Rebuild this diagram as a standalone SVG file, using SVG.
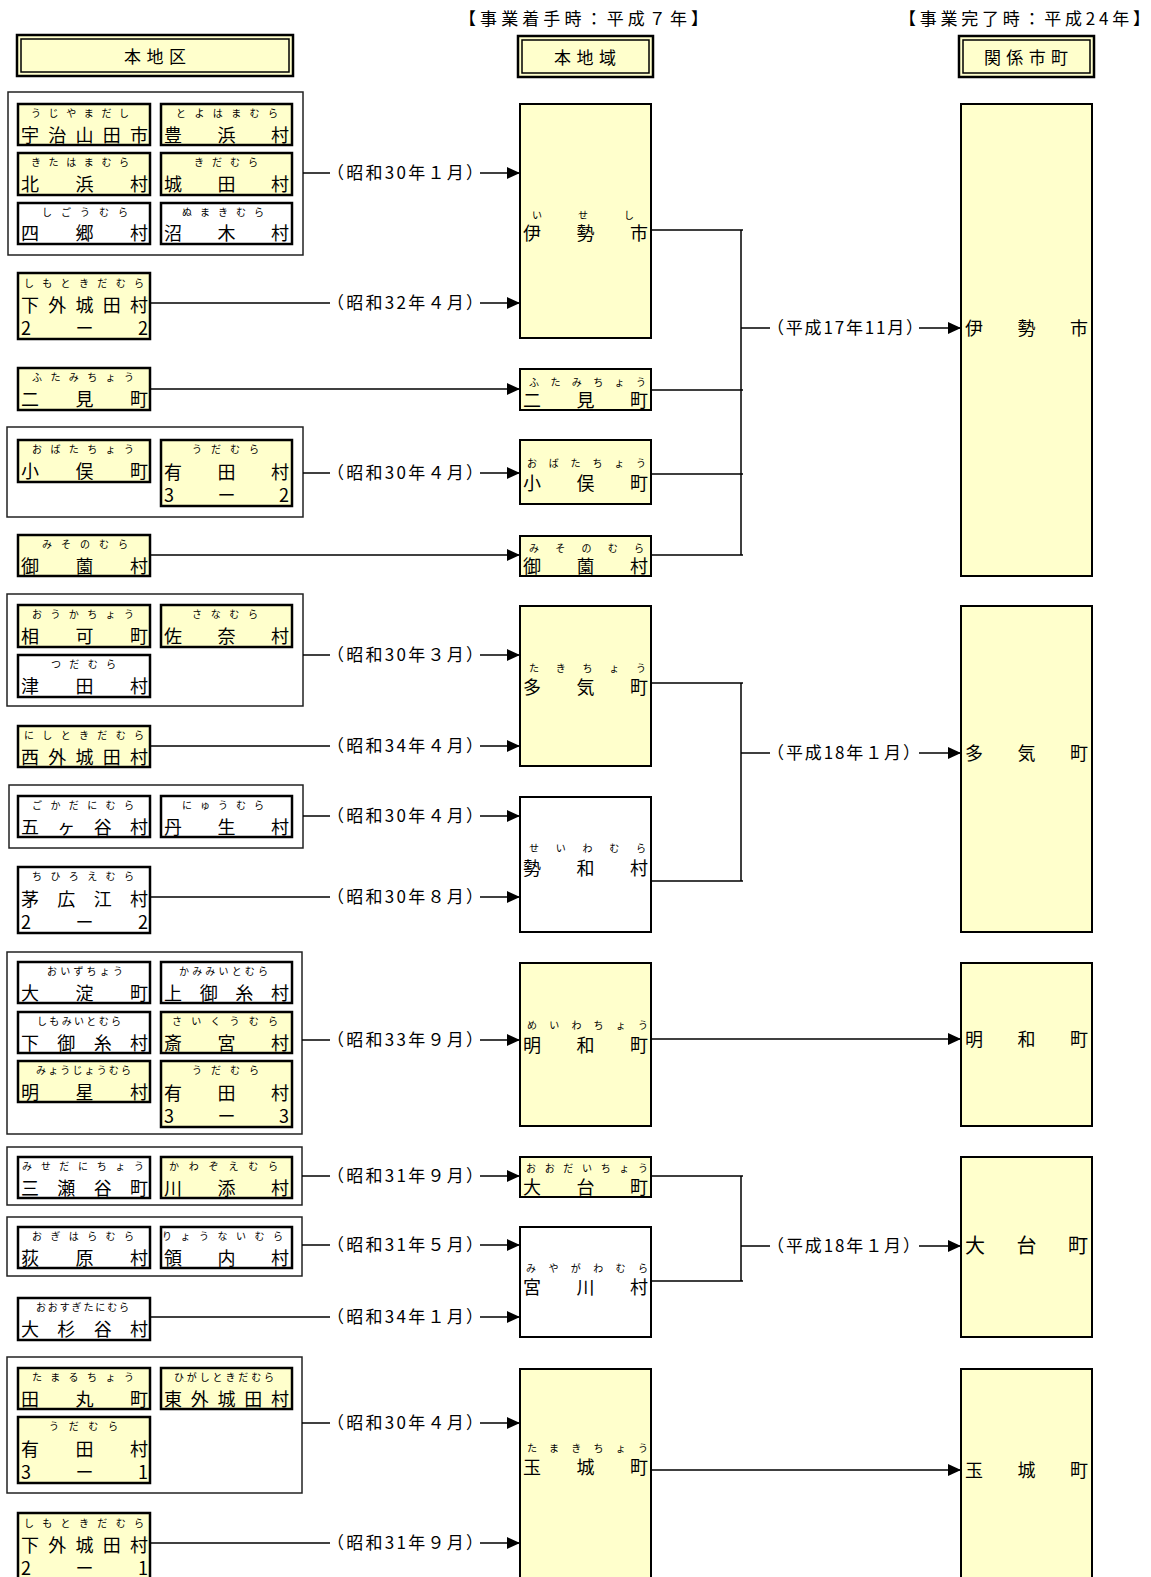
<svg xmlns="http://www.w3.org/2000/svg" width="1151" height="1577" viewBox="0 0 1151 1577">
<style>
text{font-family:"Noto Sans CJK JP","Noto Sans CJK SC",sans-serif;fill:#000}
.m{font-size:18px}
.r{font-size:10px}
.l{font-size:17px}
.h{font-size:17px}
.y{fill:#FFFFCC}
.w{fill:#FFFFFF}
.sb{stroke:#000;stroke-width:2.5}
.mb{stroke:#000;stroke-width:2}
.grp{fill:#FFFFFF;stroke:#222;stroke-width:1.5}
.hb{fill:#FFFFCC;stroke:#000;stroke-width:2.5}
.hi{fill:none;stroke:#000;stroke-width:1.5}
.c{stroke:#000;stroke-width:1.5;fill:none}
.a{stroke:#000;stroke-width:1.5;fill:none;marker-end:url(#arr)}
</style>
<defs>
<marker id="arr" markerUnits="userSpaceOnUse" markerWidth="13" markerHeight="12" refX="13" refY="6" orient="auto">
<path d="M0,0 L13,6 L0,12 Z" fill="#000"/>
</marker>
</defs>
<rect width="1151" height="1577" fill="#FFFFFF"/>

<g id="headers">
<text class="h" x="459" y="25" textLength="249" lengthAdjust="spacing">【事業着手時：平成７年】</text>
<text class="h" x="899" y="25" textLength="251" lengthAdjust="spacing">【事業完了時：平成24年】</text>
</g>
<g id="h-honchiku">
<rect class="hb" x="17" y="35" width="276" height="41"/>
<rect class="hi" x="21" y="39" width="268" height="33"/>
<text class="h" x="124" y="63" textLength="62" lengthAdjust="spacing">本地区</text>
</g>
<g id="h-honchiiki">
<rect class="hb" x="518" y="36" width="135" height="41"/>
<rect class="hi" x="522" y="40" width="127" height="33"/>
<text class="h" x="554" y="64" textLength="62" lengthAdjust="spacing">本地域</text>
</g>
<g id="h-kankei">
<rect class="hb" x="959" y="36" width="135" height="41"/>
<rect class="hi" x="963" y="40" width="127" height="33"/>
<text class="h" x="984" y="64" textLength="84" lengthAdjust="spacing">関係市町</text>
</g>

<!-- left group boxes -->
<g id="grp1"><rect class="grp" x="8" y="92" width="295" height="163"/></g>
<g id="grp2"><rect class="grp" x="7" y="427" width="296" height="90"/></g>
<g id="grp3"><rect class="grp" x="7" y="594" width="296" height="112"/></g>
<g id="grp4"><rect class="grp" x="9" y="785" width="294" height="63"/></g>
<g id="grp5"><rect class="grp" x="7" y="952" width="295" height="182"/></g>
<g id="grp6"><rect class="grp" x="7" y="1147" width="295" height="58"/></g>
<g id="grp7"><rect class="grp" x="7" y="1217" width="295" height="59"/></g>
<g id="grp8"><rect class="grp" x="7" y="1357" width="295" height="136"/></g>

<g id="n-ujiyamada"><rect class="sb y" x="18" y="104" width="132" height="41"/>
<text class="r" x="31" y="117" textLength="98" lengthAdjust="spacing">うじやまだし</text>
<text class="m" x="21" y="142" textLength="127" lengthAdjust="spacing">宇治山田市</text></g>
<g id="n-toyohama"><rect class="sb y" x="161" y="104" width="131" height="41"/>
<text class="r" x="176" y="117" textLength="102" lengthAdjust="spacing">とよはまむら</text>
<text class="m" x="164" y="142" textLength="125" lengthAdjust="spacing">豊浜村</text></g>
<g id="n-kitahama"><rect class="sb y" x="18" y="153" width="132" height="42"/>
<text class="r" x="31" y="166" textLength="98" lengthAdjust="spacing">きたはまむら</text>
<text class="m" x="21" y="191" textLength="127" lengthAdjust="spacing">北浜村</text></g>
<g id="n-kida"><rect class="sb y" x="161" y="153" width="131" height="42"/>
<text class="r" x="194" y="166" textLength="64" lengthAdjust="spacing">きだむら</text>
<text class="m" x="164" y="191" textLength="125" lengthAdjust="spacing">城田村</text></g>
<g id="n-shigo"><rect class="sb w" x="18" y="203" width="132" height="41"/>
<text class="r" x="42" y="216" textLength="86" lengthAdjust="spacing">しごうむら</text>
<text class="m" x="21" y="240" textLength="127" lengthAdjust="spacing">四郷村</text></g>
<g id="n-nuki"><rect class="sb w" x="161" y="203" width="131" height="41"/>
<text class="r" x="182" y="216" textLength="82" lengthAdjust="spacing">ぬまきむら</text>
<text class="m" x="164" y="240" textLength="125" lengthAdjust="spacing">沼木村</text></g>

<g id="n-shimotokida22"><rect class="sb y" x="18" y="273" width="132" height="66"/>
<text class="r" x="24" y="287" textLength="120" lengthAdjust="spacing">しもときだむら</text>
<text class="m" x="21" y="312" textLength="127" lengthAdjust="spacing">下外城田村</text>
<text class="m" x="21" y="335" textLength="127" lengthAdjust="spacing">2ー2</text></g>

<g id="n-futami"><rect class="sb y" x="18" y="368" width="132" height="42"/>
<text class="r" x="32" y="381" textLength="102" lengthAdjust="spacing">ふたみちょう</text>
<text class="m" x="21" y="406" textLength="127" lengthAdjust="spacing">二見町</text></g>

<g id="n-obata"><rect class="sb y" x="18" y="440" width="132" height="42"/>
<text class="r" x="32" y="453" textLength="102" lengthAdjust="spacing">おばたちょう</text>
<text class="m" x="21" y="478" textLength="127" lengthAdjust="spacing">小俣町</text></g>
<g id="n-uda32"><rect class="sb y" x="161" y="440" width="131" height="66"/>
<text class="r" x="192" y="453" textLength="67" lengthAdjust="spacing">うだむら</text>
<text class="m" x="164" y="479" textLength="125" lengthAdjust="spacing">有田村</text>
<text class="m" x="164" y="502" textLength="125" lengthAdjust="spacing">3ー2</text></g>

<g id="n-misono"><rect class="sb y" x="18" y="535" width="132" height="41"/>
<text class="r" x="42" y="548" textLength="86" lengthAdjust="spacing">みそのむら</text>
<text class="m" x="21" y="573" textLength="127" lengthAdjust="spacing">御薗村</text></g>

<g id="n-ouka"><rect class="sb y" x="18" y="605" width="132" height="42"/>
<text class="r" x="32" y="618" textLength="102" lengthAdjust="spacing">おうかちょう</text>
<text class="m" x="21" y="643" textLength="127" lengthAdjust="spacing">相可町</text></g>
<g id="n-sana"><rect class="sb y" x="161" y="605" width="131" height="42"/>
<text class="r" x="192" y="618" textLength="66" lengthAdjust="spacing">さなむら</text>
<text class="m" x="164" y="643" textLength="125" lengthAdjust="spacing">佐奈村</text></g>
<g id="n-tsuda"><rect class="sb w" x="18" y="655" width="132" height="42"/>
<text class="r" x="51" y="668" textLength="65" lengthAdjust="spacing">つだむら</text>
<text class="m" x="21" y="693" textLength="127" lengthAdjust="spacing">津田村</text></g>

<g id="n-nishitokida"><rect class="sb y" x="18" y="726" width="132" height="41"/>
<text class="r" x="24" y="739" textLength="120" lengthAdjust="spacing">にしときだむら</text>
<text class="m" x="21" y="764" textLength="127" lengthAdjust="spacing">西外城田村</text></g>

<g id="n-gokadani"><rect class="sb w" x="18" y="796" width="132" height="41"/>
<text class="r" x="32" y="809" textLength="102" lengthAdjust="spacing">ごかだにむら</text>
<text class="m" x="21" y="834" textLength="127" lengthAdjust="spacing">五ヶ谷村</text></g>
<g id="n-nyu"><rect class="sb w" x="161" y="796" width="131" height="41"/>
<text class="r" x="182" y="809" textLength="82" lengthAdjust="spacing">にゅうむら</text>
<text class="m" x="164" y="834" textLength="125" lengthAdjust="spacing">丹生村</text></g>

<g id="n-chihiroe"><rect class="sb w" x="18" y="867" width="132" height="66"/>
<text class="r" x="32" y="880" textLength="102" lengthAdjust="spacing">ちひろえむら</text>
<text class="m" x="21" y="906" textLength="127" lengthAdjust="spacing">茅広江村</text>
<text class="m" x="21" y="929" textLength="127" lengthAdjust="spacing">2ー2</text></g>

<g id="n-oizu"><rect class="sb w" x="18" y="962" width="132" height="41"/>
<text class="r" x="47" y="975" textLength="76" lengthAdjust="spacing">おいずちょう</text>
<text class="m" x="21" y="1000" textLength="127" lengthAdjust="spacing">大淀町</text></g>
<g id="n-kamimiito"><rect class="sb w" x="161" y="962" width="131" height="41"/>
<text class="r" x="179" y="975" textLength="89" lengthAdjust="spacing">かみみいとむら</text>
<text class="m" x="164" y="1000" textLength="125" lengthAdjust="spacing">上御糸村</text></g>
<g id="n-shimomiito"><rect class="sb w" x="18" y="1012" width="132" height="41"/>
<text class="r" x="37" y="1025" textLength="84" lengthAdjust="spacing">しもみいとむら</text>
<text class="m" x="21" y="1050" textLength="127" lengthAdjust="spacing">下御糸村</text></g>
<g id="n-saiku"><rect class="sb y" x="161" y="1012" width="131" height="41"/>
<text class="r" x="172" y="1025" textLength="106" lengthAdjust="spacing">さいくうむら</text>
<text class="m" x="164" y="1050" textLength="125" lengthAdjust="spacing">斎宮村</text></g>
<g id="n-myojo"><rect class="sb y" x="18" y="1061" width="132" height="41"/>
<text class="r" x="36" y="1074" textLength="95" lengthAdjust="spacing">みょうじょうむら</text>
<text class="m" x="21" y="1099" textLength="127" lengthAdjust="spacing">明星村</text></g>
<g id="n-uda33"><rect class="sb y" x="161" y="1061" width="131" height="66"/>
<text class="r" x="192" y="1074" textLength="67" lengthAdjust="spacing">うだむら</text>
<text class="m" x="164" y="1100" textLength="125" lengthAdjust="spacing">有田村</text>
<text class="m" x="164" y="1123" textLength="125" lengthAdjust="spacing">3ー3</text></g>

<g id="n-misedani"><rect class="sb w" x="18" y="1157" width="132" height="41"/>
<text class="r" x="22" y="1170" textLength="122" lengthAdjust="spacing">みせだにちょう</text>
<text class="m" x="21" y="1195" textLength="127" lengthAdjust="spacing">三瀬谷町</text></g>
<g id="n-kawazoe"><rect class="sb y" x="161" y="1157" width="131" height="41"/>
<text class="r" x="169" y="1170" textLength="109" lengthAdjust="spacing">かわぞえむら</text>
<text class="m" x="164" y="1195" textLength="125" lengthAdjust="spacing">川添村</text></g>

<g id="n-ogihara"><rect class="sb w" x="18" y="1227" width="132" height="41"/>
<text class="r" x="32" y="1240" textLength="102" lengthAdjust="spacing">おぎはらむら</text>
<text class="m" x="21" y="1265" textLength="127" lengthAdjust="spacing">荻原村</text></g>
<g id="n-ryonai"><rect class="sb w" x="161" y="1227" width="131" height="41"/>
<text class="r" x="162" y="1240" textLength="121" lengthAdjust="spacing">りょうないむら</text>
<text class="m" x="164" y="1265" textLength="125" lengthAdjust="spacing">領内村</text></g>

<g id="n-osugidani"><rect class="sb w" x="18" y="1298" width="132" height="42"/>
<text class="r" x="36" y="1311" textLength="93" lengthAdjust="spacing">おおすぎたにむら</text>
<text class="m" x="21" y="1336" textLength="127" lengthAdjust="spacing">大杉谷村</text></g>

<g id="n-tamaru"><rect class="sb y" x="18" y="1368" width="132" height="41"/>
<text class="r" x="32" y="1381" textLength="102" lengthAdjust="spacing">たまるちょう</text>
<text class="m" x="21" y="1406" textLength="127" lengthAdjust="spacing">田丸町</text></g>
<g id="n-higashitokida"><rect class="sb y" x="161" y="1368" width="131" height="41"/>
<text class="r" x="174" y="1381" textLength="100" lengthAdjust="spacing">ひがしときだむら</text>
<text class="m" x="164" y="1406" textLength="125" lengthAdjust="spacing">東外城田村</text></g>
<g id="n-uda31"><rect class="sb y" x="18" y="1417" width="132" height="66"/>
<text class="r" x="49" y="1430" textLength="69" lengthAdjust="spacing">うだむら</text>
<text class="m" x="21" y="1456" textLength="127" lengthAdjust="spacing">有田村</text>
<text class="m" x="21" y="1479" textLength="127" lengthAdjust="spacing">3ー1</text></g>

<g id="n-shimotokida21"><rect class="sb y" x="18" y="1513" width="132" height="80"/>
<text class="r" x="24" y="1527" textLength="120" lengthAdjust="spacing">しもときだむら</text>
<text class="m" x="21" y="1552" textLength="127" lengthAdjust="spacing">下外城田村</text>
<text class="m" x="21" y="1575" textLength="127" lengthAdjust="spacing">2ー1</text></g>

<!-- middle column -->
<g id="m-ise"><rect class="mb y" x="520" y="104" width="131" height="234"/>
<text class="r" x="532" y="219" textLength="102" lengthAdjust="spacing">いせし</text>
<text class="m" x="523" y="240" textLength="125" lengthAdjust="spacing">伊勢市</text></g>
<g id="m-futami"><rect class="mb y" x="520" y="369" width="131" height="41"/>
<text class="r" x="529" y="386" textLength="117" lengthAdjust="spacing">ふたみちょう</text>
<text class="m" x="523" y="407" textLength="125" lengthAdjust="spacing">二見町</text></g>
<g id="m-obata"><rect class="mb y" x="520" y="440" width="131" height="64"/>
<text class="r" x="527" y="467" textLength="119" lengthAdjust="spacing">おばたちょう</text>
<text class="m" x="523" y="490" textLength="125" lengthAdjust="spacing">小俣町</text></g>
<g id="m-misono"><rect class="mb y" x="520" y="536" width="131" height="40"/>
<text class="r" x="529" y="552" textLength="115" lengthAdjust="spacing">みそのむら</text>
<text class="m" x="523" y="573" textLength="125" lengthAdjust="spacing">御薗村</text></g>
<g id="m-taki"><rect class="mb y" x="520" y="606" width="131" height="160"/>
<text class="r" x="529" y="672" textLength="117" lengthAdjust="spacing">たきちょう</text>
<text class="m" x="523" y="694" textLength="125" lengthAdjust="spacing">多気町</text></g>
<g id="m-seiwa"><rect class="mb w" x="520" y="797" width="131" height="135"/>
<text class="r" x="529" y="852" textLength="117" lengthAdjust="spacing">せいわむら</text>
<text class="m" x="523" y="875" textLength="125" lengthAdjust="spacing">勢和村</text></g>
<g id="m-meiwa"><rect class="mb y" x="520" y="963" width="131" height="163"/>
<text class="r" x="527" y="1029" textLength="121" lengthAdjust="spacing">めいわちょう</text>
<text class="m" x="523" y="1052" textLength="125" lengthAdjust="spacing">明和町</text></g>
<g id="m-odai"><rect class="mb y" x="520" y="1157" width="131" height="40"/>
<text class="r" x="526" y="1172" textLength="122" lengthAdjust="spacing">おおだいちょう</text>
<text class="m" x="523" y="1194" textLength="125" lengthAdjust="spacing">大台町</text></g>
<g id="m-miyagawa"><rect class="mb w" x="520" y="1227" width="131" height="110"/>
<text class="r" x="526" y="1272" textLength="122" lengthAdjust="spacing">みやがわむら</text>
<text class="m" x="523" y="1294" textLength="125" lengthAdjust="spacing">宮川村</text></g>
<g id="m-tamaki"><rect class="mb y" x="520" y="1369" width="131" height="230"/>
<text class="r" x="527" y="1452" textLength="121" lengthAdjust="spacing">たまきちょう</text>
<text class="m" x="523" y="1474" textLength="125" lengthAdjust="spacing">玉城町</text></g>

<!-- right column -->
<g id="r-ise"><rect class="mb y" x="961" y="104" width="131" height="472"/>
<text class="m" x="965" y="335" textLength="123" lengthAdjust="spacing">伊勢市</text></g>
<g id="r-taki"><rect class="mb y" x="961" y="606" width="131" height="326"/>
<text class="m" x="965" y="760" textLength="123" lengthAdjust="spacing">多気町</text></g>
<g id="r-meiwa"><rect class="mb y" x="961" y="963" width="131" height="163"/>
<text class="m" x="965" y="1046" textLength="123" lengthAdjust="spacing">明和町</text></g>
<g id="r-odai"><rect class="mb y" x="961" y="1157" width="131" height="180"/>
<text class="m" x="965" y="1253" textLength="123" lengthAdjust="spacing" style="font-size:20px">大台町</text></g>
<g id="r-tamaki"><rect class="mb y" x="961" y="1369" width="131" height="230"/>
<text class="m" x="965" y="1477" textLength="123" lengthAdjust="spacing">玉城町</text></g>

<!-- connectors -->
<g id="connectors">
<line class="c" x1="303" y1="173" x2="330" y2="173"/><line class="a" x1="480" y1="173" x2="520" y2="173"/>
<line class="c" x1="150" y1="303" x2="330" y2="303"/><line class="a" x1="480" y1="303" x2="520" y2="303"/>
<line class="a" x1="150" y1="389" x2="520" y2="389"/>
<line class="c" x1="303" y1="473" x2="330" y2="473"/><line class="a" x1="480" y1="473" x2="520" y2="473"/>
<line class="a" x1="150" y1="555" x2="520" y2="555"/>
<line class="c" x1="303" y1="655" x2="330" y2="655"/><line class="a" x1="480" y1="655" x2="520" y2="655"/>
<line class="c" x1="150" y1="746" x2="330" y2="746"/><line class="a" x1="480" y1="746" x2="520" y2="746"/>
<line class="c" x1="303" y1="816" x2="330" y2="816"/><line class="a" x1="480" y1="816" x2="520" y2="816"/>
<line class="c" x1="150" y1="897" x2="330" y2="897"/><line class="a" x1="480" y1="897" x2="520" y2="897"/>
<line class="c" x1="302" y1="1040" x2="330" y2="1040"/><line class="a" x1="480" y1="1040" x2="520" y2="1040"/>
<line class="c" x1="302" y1="1176" x2="330" y2="1176"/><line class="a" x1="480" y1="1176" x2="520" y2="1176"/>
<line class="c" x1="302" y1="1245" x2="330" y2="1245"/><line class="a" x1="480" y1="1245" x2="520" y2="1245"/>
<line class="c" x1="150" y1="1317" x2="330" y2="1317"/><line class="a" x1="480" y1="1317" x2="520" y2="1317"/>
<line class="c" x1="302" y1="1423" x2="330" y2="1423"/><line class="a" x1="480" y1="1423" x2="520" y2="1423"/>
<line class="c" x1="150" y1="1543" x2="330" y2="1543"/><line class="a" x1="480" y1="1543" x2="520" y2="1543"/>

<path class="c" d="M651,230 H743 M651,390 H743 M651,474 H743 M651,555 H743 M741,230 V555 M741,328 H770"/>
<line class="a" x1="919" y1="328" x2="961" y2="328"/>
<path class="c" d="M651,683 H743 M651,881 H743 M741,683 V881 M741,753 H770"/>
<line class="a" x1="919" y1="753" x2="961" y2="753"/>
<line class="a" x1="651" y1="1039" x2="961" y2="1039"/>
<path class="c" d="M651,1176 H743 M651,1281 H743 M741,1176 V1281 M741,1246 H770"/>
<line class="a" x1="919" y1="1246" x2="961" y2="1246"/>
<line class="a" x1="651" y1="1470" x2="961" y2="1470"/>

<text class="l" x="327" y="179" textLength="156" lengthAdjust="spacing">（昭和30年１月）</text>
<text class="l" x="327" y="309" textLength="156" lengthAdjust="spacing">（昭和32年４月）</text>
<text class="l" x="327" y="479" textLength="156" lengthAdjust="spacing">（昭和30年４月）</text>
<text class="l" x="327" y="661" textLength="156" lengthAdjust="spacing">（昭和30年３月）</text>
<text class="l" x="327" y="752" textLength="156" lengthAdjust="spacing">（昭和34年４月）</text>
<text class="l" x="327" y="822" textLength="156" lengthAdjust="spacing">（昭和30年４月）</text>
<text class="l" x="327" y="903" textLength="156" lengthAdjust="spacing">（昭和30年８月）</text>
<text class="l" x="327" y="1046" textLength="156" lengthAdjust="spacing">（昭和33年９月）</text>
<text class="l" x="327" y="1182" textLength="156" lengthAdjust="spacing">（昭和31年９月）</text>
<text class="l" x="327" y="1251" textLength="156" lengthAdjust="spacing">（昭和31年５月）</text>
<text class="l" x="327" y="1323" textLength="156" lengthAdjust="spacing">（昭和34年１月）</text>
<text class="l" x="327" y="1429" textLength="156" lengthAdjust="spacing">（昭和30年４月）</text>
<text class="l" x="327" y="1549" textLength="156" lengthAdjust="spacing">（昭和31年９月）</text>
<text class="l" x="767" y="334" textLength="156" lengthAdjust="spacing">（平成17年11月）</text>
<text class="l" x="767" y="759" textLength="153" lengthAdjust="spacing">（平成18年１月）</text>
<text class="l" x="767" y="1252" textLength="153" lengthAdjust="spacing">（平成18年１月）</text>
</g>
</svg>
